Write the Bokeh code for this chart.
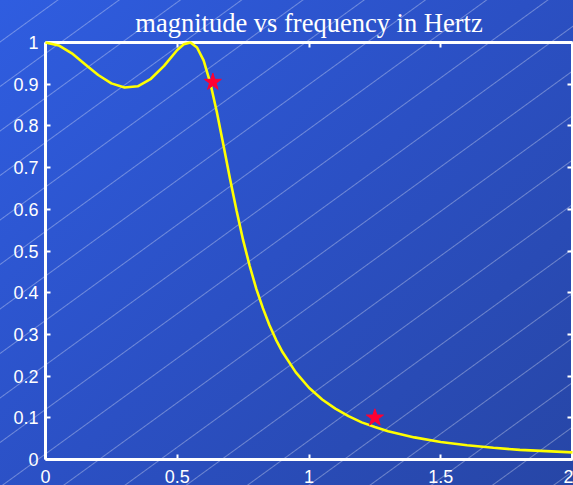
from bokeh.plotting import figure
from bokeh.models import Range1d, LinearAxis, FixedTicker, CustomLabelingPolicy
from bokeh.embed import file_html
from bokeh.resources import INLINE

# magnitude response
freq = [0, 0.05, 0.1, 0.15, 0.2, 0.25, 0.3, 0.35, 0.4, 0.45, 0.5, 0.525, 0.55,
        0.575, 0.6, 0.625, 0.65, 0.675, 0.7, 0.725, 0.75, 0.775, 0.8, 0.825,
        0.85, 0.875, 0.9, 0.95, 1.0, 1.05, 1.1, 1.15, 1.2, 1.25, 1.3, 1.4, 1.5,
        1.6, 1.7, 1.8, 1.9, 2.0]
mag = [1.000, 0.993, 0.974, 0.948, 0.922, 0.902, 0.892, 0.895, 0.913, 0.944,
       0.982, 0.996, 1.000, 0.988, 0.957, 0.904, 0.834, 0.755, 0.674, 0.597,
       0.526, 0.464, 0.409, 0.363, 0.322, 0.287, 0.257, 0.209, 0.172, 0.144,
       0.122, 0.104, 0.089, 0.078, 0.068, 0.053, 0.042, 0.034, 0.028, 0.023,
       0.020, 0.017]

star_freq = [0.635, 1.25]
star_mag = [0.905, 0.1]

x_ticks = [0, 0.5, 1, 1.5, 2]
x_labels = ["0", "0.5", "1", "1.5", "2"]
y_ticks = [0, 0.1, 0.2, 0.3, 0.4, 0.5, 0.6, 0.7, 0.8, 0.9, 1]
y_labels = ["0", "0.1", "0.2", "0.3", "0.4", "0.5", "0.6", "0.7", "0.8", "0.9", "1"]

TITLE = "magnitude vs frequency in Hertz"

p = figure(width=573, height=485, output_backend="svg", toolbar_location=None,
           x_range=Range1d(0, 2), y_range=Range1d(0, 1),
           min_border_left=45, min_border_right=1, min_border_top=42,
           min_border_bottom=26, title=TITLE)

p.background_fill_color = None
p.border_fill_color = None
p.outline_line_color = None
p.grid.visible = False

p.styles = {
    "background": (
        "repeating-linear-gradient(144deg, rgba(255,255,255,0) 0px, "
        "rgba(255,255,255,0) 33px, rgba(255,255,255,0.32) 34px, "
        "rgba(255,255,255,0) 35px, rgba(255,255,255,0) 36px), "
        "linear-gradient(135deg, #2f5de0 0%, #2b50c4 50%, #2746a6 100%)"
    )
}

p.title.text_font = "Liberation Serif"
p.title.text_font_size = "26.5px"
p.title.text_font_style = "normal"
p.title.text_color = "white"
p.title.align = "center"


def style_axis(ax, ticks, labels, show_labels=True):
    ax.ticker = FixedTicker(ticks=ticks)
    ax.major_label_overrides = {t: l for t, l in zip(ticks, labels)}
    ax.axis_line_color = "white"
    ax.axis_line_width = 3
    ax.major_tick_line_color = "white"
    ax.major_tick_line_width = 2
    ax.major_tick_in = 5
    ax.major_tick_out = 0
    ax.minor_tick_line_color = None
    ax.major_label_text_color = "white"
    ax.major_label_text_font = "Liberation Sans"
    if show_labels:
        ax.major_label_text_font_size = "18px"
        ax.major_label_standoff = 10
    else:
        ax.major_label_text_font_size = "0px"
        ax.major_label_standoff = 0
        ax.major_label_policy = CustomLabelingPolicy(
            code="for (const i of indices) { indices.unset(i) } return indices")


style_axis(p.xaxis[0], x_ticks, x_labels)
style_axis(p.yaxis[0], y_ticks, y_labels)
p.yaxis[0].major_label_standoff = 7

top = LinearAxis()
style_axis(top, x_ticks, x_labels, show_labels=False)
p.add_layout(top, "above")
right = LinearAxis()
style_axis(right, y_ticks, y_labels, show_labels=False)
p.add_layout(right, "right")

line = p.line(freq, mag, line_color="#ffff00", line_width=2.6)
line.level = "overlay"
stars = p.scatter(star_freq, star_mag, marker="star", size=18,
                  fill_color="#ff0033", line_color="#ff0033")
stars.level = "overlay"

open("out.html", "w").write(file_html(p, INLINE))
